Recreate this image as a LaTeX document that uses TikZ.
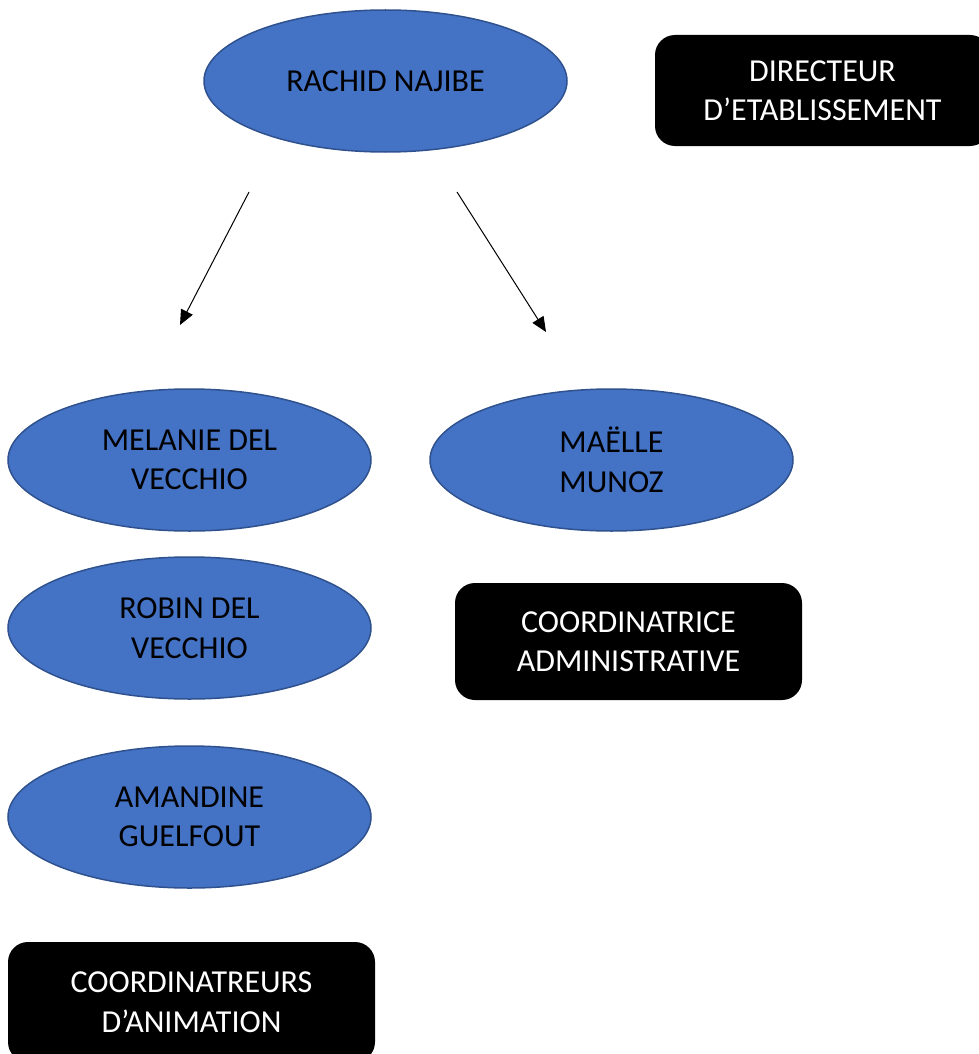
\documentclass[tikz,border=0pt]{standalone}
\usepackage{fontspec}
\setmainfont{Carlito}
\usepackage{xcolor}
\usetikzlibrary{arrows.meta, shapes.geometric}

\definecolor{bluefill}{HTML}{4472C4}
\definecolor{blueline}{HTML}{2F528F}

\begin{document}
\begin{tikzpicture}[x=1pt, y=-1pt,
    every node/.style={font=\fontsize{32}{39.5}\selectfont, align=center},
    person/.style={ellipse, draw=blueline, line width=1.5pt, fill=bluefill,
        minimum width=363pt, minimum height=142pt, inner sep=0pt},
    rolebox/.style={rectangle, rounded corners=20pt, fill=black, text=white, inner sep=0pt}]
    \useasboundingbox (0,0) rectangle (979,1054);

    % people
    \node[person] (rachid) at (385.5,81) {RACHID NAJIBE};
    \foreach \name/\x/\y/\txt in {melanie/189.5/460/{MELANIE DEL\\VECCHIO},
        maelle/611.5/460/{MAËLLE\\MUNOZ},
        robin/189.5/628/{ROBIN DEL\\VECCHIO},
        amandine/189.5/817/{AMANDINE\\GUELFOUT}} {
        \node[person] (\name) at (\x,\y) {\txt};
    }

    % roles
    \node[rolebox, minimum width=335pt, minimum height=111pt] (directeur) at (822.5,90.5)
        {DIRECTEUR\\D’ETABLISSEMENT};
    \node[rolebox, minimum width=347pt, minimum height=117pt] (coordadmin) at (628.5,641.5)
        {COORDINATRICE\\ADMINISTRATIVE};
    \node[rolebox, minimum width=367pt, minimum height=120pt] (coordanim) at (191.5,1002)
        {COORDINATREURS\\D’ANIMATION};

    % arrows
    \coordinate (leftstart) at (249,192);
    \coordinate (leftend) at (180,325);
    \coordinate (rightstart) at (457,192);
    \coordinate (rightend) at (546,332);
    \draw[-{Triangle[length=15pt, width=13pt]}, line width=1pt] (leftstart) -- (leftend);
    \draw[-{Triangle[length=15pt, width=13pt]}, line width=1pt] (rightstart) -- (rightend);
\end{tikzpicture}
\end{document}
